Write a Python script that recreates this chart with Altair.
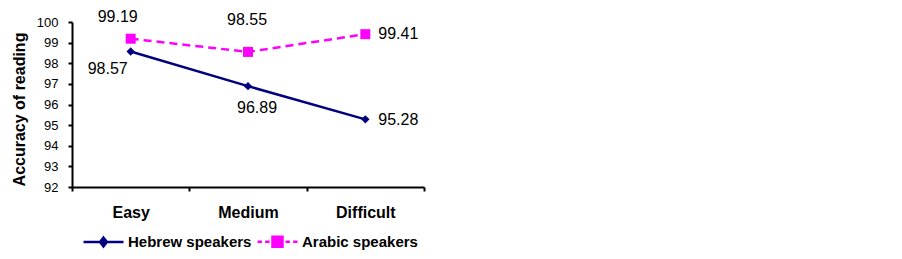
import altair as alt
import pandas as pd

categories = ["Easy", "Medium", "Difficult"]
hebrew = [98.57, 96.89, 95.28]
arabic = [99.19, 98.55, 99.41]
series_names = ["Hebrew speakers", "Arabic speakers"]
y_ticks = [92, 93, 94, 95, 96, 97, 98, 99, 100]

# label offsets (style)
heb_dx = [-23, 9, 33]
heb_dy = [18, 22, 1]
ara_dx = [-13, -1, 33]
ara_dy = [-22, -32, 0]

NAVY = "#000080"
MAGENTA = "#FF00FF"
FONT = "Liberation Sans"

rows = []
for c, h, a in zip(categories, hebrew, arabic):
    rows.append({"cat": c, "series": series_names[0], "value": h, "label": f"{h:.2f}"})
    rows.append({"cat": c, "series": series_names[1], "value": a, "label": f"{a:.2f}"})
df = pd.DataFrame(rows)

x_enc = alt.X("cat:N", sort=categories,
              scale=alt.Scale(type="band", domain=categories, paddingInner=0, paddingOuter=0),
              axis=alt.Axis(title=None, labelAngle=0, labelFont=FONT, labelFontSize=16,
                            labelFontWeight="bold", labelColor="black", tickBand="extent",
                            tickSize=4, tickWidth=2, domainWidth=2, labelPadding=13,
                            domainColor="black", tickColor="black"))
y_enc = alt.Y("value:Q", scale=alt.Scale(domain=[92, 100], nice=False, zero=False),
              axis=alt.Axis(title="Accuracy of reading", values=y_ticks, grid=False,
                            labelFont=FONT, labelFontSize=13, labelColor="black",
                            tickSize=4, tickWidth=2, domainWidth=2, labelPadding=10,
                            domainColor="black", tickColor="black",
                            titleFont=FONT, titleFontSize=16, titleFontWeight="bold",
                            titleColor="black", titlePadding=9, titleY=87))

base = alt.Chart(df)
layers = []

heb = base.transform_filter(alt.datum.series == series_names[0])
ara = base.transform_filter(alt.datum.series == series_names[1])

layers.append(heb.mark_line(color=NAVY, strokeWidth=2.5).encode(x=x_enc, y=y_enc))
layers.append(ara.mark_line(color=MAGENTA, strokeWidth=2.5, strokeDash=[8, 5]).encode(x=x_enc, y=y_enc))
layers.append(heb.mark_point(shape="diamond", filled=True, color=NAVY, size=70, opacity=1).encode(x=x_enc, y=y_enc))
layers.append(ara.mark_point(shape="square", filled=True, color=MAGENTA, size=100, opacity=1).encode(x=x_enc, y=y_enc))

for i, c in enumerate(categories):
    for s, dxs, dys in ((series_names[0], heb_dx, heb_dy), (series_names[1], ara_dx, ara_dy)):
        layers.append(
            base.transform_filter((alt.datum.series == s) & (alt.datum.cat == c))
            .mark_text(font=FONT, fontSize=16, color="black", align="center", baseline="middle",
                       dx=dxs[i], dy=dys[i])
            .encode(x=x_enc, y=y_enc, text="label:N")
        )

heb_path = "M-1,0L1,0M0,-0.22L0.17,0L0,0.22L-0.17,0Z"
ara_path = ("M-1,0L-0.78,0M-0.62,0L-0.4,0M-0.25,-0.25L0.25,-0.25L0.25,0.25L-0.25,0.25Z"
            "M0.4,0L0.62,0M0.78,0L1,0")

legend = alt.Legend(title=None, orient="none", legendX=10, legendY=198, direction="horizontal",
                    symbolSize=1600, symbolOpacity=1, symbolStrokeWidth=2.5,
                    labelFont=FONT, labelFontSize=15, labelFontWeight="bold", labelColor="black",
                    labelOffset=3, columnPadding=0, padding=0)
leg_scale_dom = series_names
layers.append(
    base.mark_point(opacity=0, filled=True).encode(
        x=x_enc, y=y_enc,
        shape=alt.Shape("series:N", scale=alt.Scale(domain=leg_scale_dom, range=[heb_path, ara_path]), legend=legend),
        fill=alt.Fill("series:N", scale=alt.Scale(domain=leg_scale_dom, range=[NAVY, MAGENTA]), legend=legend),
        stroke=alt.Stroke("series:N", scale=alt.Scale(domain=leg_scale_dom, range=[NAVY, MAGENTA]), legend=legend),
    )
)

chart = alt.layer(*layers).properties(
    width=352, height=165,
    autosize=alt.AutoSizeParams(type="none"),
    padding={"left": 64, "top": 14, "right": 464, "bottom": 64},
    background="white",
).configure_view(stroke=None)

chart.save("out.html", embed_options={"renderer": "svg", "actions": False})
